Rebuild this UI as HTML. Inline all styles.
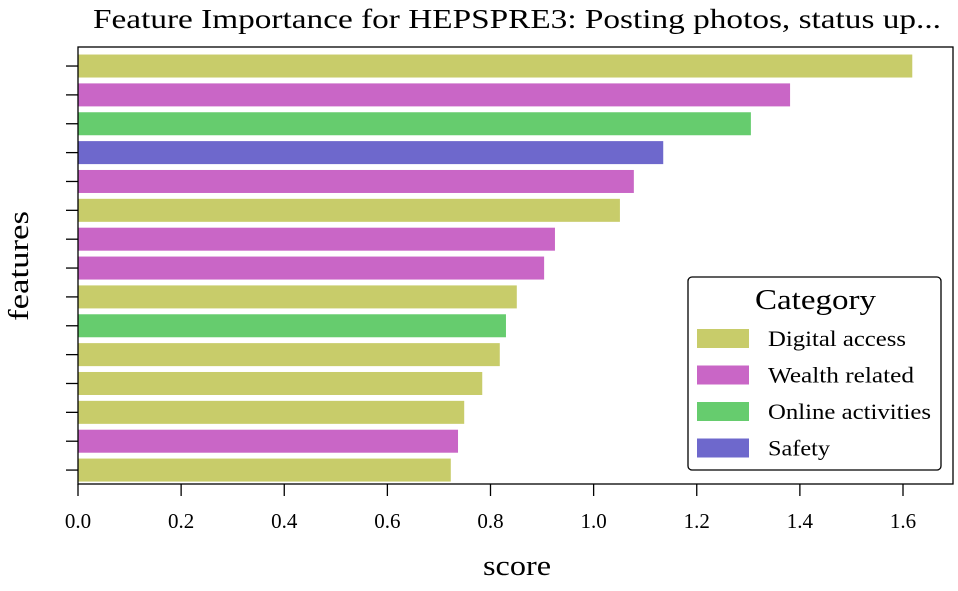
<!DOCTYPE html>
<html><head><meta charset="utf-8"><style>
body{margin:0;background:#fff;}
svg text{font-family:"Liberation Serif",serif;fill:#000;}
</style></head><body>
<svg id="chart" width="958" height="586">
<text x="93" y="28" font-size="27" textLength="848" lengthAdjust="spacingAndGlyphs">Feature Importance for HEPSPRE3: Posting photos, status up...</text>
<g id="bars"></g>
<g id="xaxis"></g>
<g id="yaxis"></g>
<rect x="78" y="47" width="875" height="437" fill="none" stroke="#000" stroke-width="1.3"/>
<text x="483" y="575" font-size="28" textLength="68" lengthAdjust="spacingAndGlyphs">score</text>
<text x="0" y="0" transform="translate(28,266) rotate(-90)" text-anchor="middle" font-size="28" textLength="110" lengthAdjust="spacingAndGlyphs">features</text>
<g>
<rect x="688" y="277" width="253" height="193" rx="4" fill="#fff" stroke="#000" stroke-width="1.3"/>
<text x="755" y="309" font-size="29" textLength="121" lengthAdjust="spacingAndGlyphs">Category</text>
<g id="legend-entries"></g>
</g>
</svg>
<script>
const values = [1.618,1.381,1.305,1.135,1.078,1.051,0.925,0.904,0.851,0.830,0.818,0.784,0.749,0.737,0.723];
const cats = ["Digital access","Wealth related","Online activities","Safety","Wealth related","Digital access","Wealth related","Wealth related","Digital access","Online activities","Digital access","Digital access","Digital access","Wealth related","Digital access"];
const categories = ["Digital access","Wealth related","Online activities","Safety"];
const legendWidths = [138,146,163,62];
const xTicks = [0,0.2,0.4,0.6,0.8,1.0,1.2,1.4,1.6];
const xTickLabels = ["0.0","0.2","0.4","0.6","0.8","1.0","1.2","1.4","1.6"];
const colors = {"Digital access":"#c8cc6a","Wealth related":"#c966c6","Online activities":"#66cc6e","Safety":"#6e68cc"};
const NS="http://www.w3.org/2000/svg";
const x0=78, pxPerUnit=(903-78)/1.6;
const xs=v=>x0+v*pxPerUnit;
const yTop=51.6, step=28.86;
const yc=i=>yTop+step*(i+0.5);
function mk(t,a,p){const e=document.createElementNS(NS,t);for(const k in a)e.setAttribute(k,a[k]);p.appendChild(e);return e;}
const bars=document.getElementById('bars'), xa=document.getElementById('xaxis'), ya=document.getElementById('yaxis');
values.forEach((v,i)=>{
  const r=mk('rect',{x:x0,y:yc(i)-11.5,width:xs(v)-x0,height:23,fill:colors[cats[i]]},bars);
  
  
  const t=mk('line',{x1:66,x2:78,y1:yc(i),y2:yc(i),stroke:'#000','stroke-width':1.3},ya);
  
  
});
xTicks.forEach((v,i)=>{
  const t=mk('line',{x1:xs(v),x2:xs(v),y1:484,y2:496,stroke:'#000','stroke-width':1.3},xa);
  
  
  const l=mk('text',{x:xs(v),y:528,'text-anchor':'middle','font-size':21},xa);
  l.textContent=xTickLabels[i];
  
  
});
const le=document.getElementById('legend-entries');
categories.forEach((c,i)=>{
  const y=339+i*36.5;
  const s=mk('rect',{x:697,y:y-10,width:52,height:19,fill:colors[c]},le);
  
  
  const t=mk('text',{x:768,y:y+7,'font-size':22,textLength:legendWidths[i],lengthAdjust:'spacingAndGlyphs'},le);
  t.textContent=c;
  
  
});
</script>
</body></html>
